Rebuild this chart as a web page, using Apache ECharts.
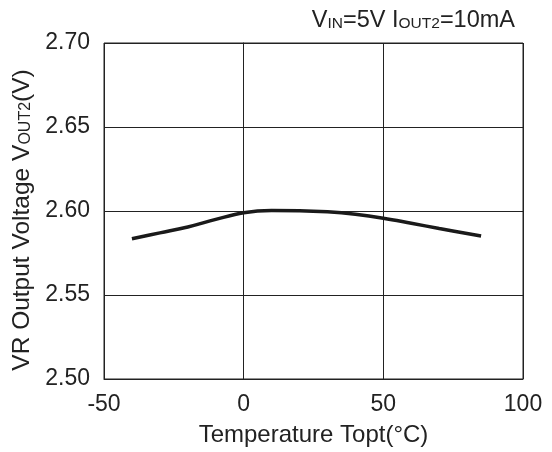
<!DOCTYPE html>
<html><head><meta charset="utf-8">
<script src="https://cdn.jsdelivr.net/npm/echarts@6/dist/echarts.min.js"></script>
<style>html,body{margin:0;padding:0;background:#fff}#c{width:552px;height:452px}</style>
</head><body><div id="c"></div>
<script>
const temps = [-40, -30, -20, -10, 0, 10, 20, 30, 40, 50, 60, 70, 85];
const vout  = [2.5835, 2.5870, 2.5905, 2.5950, 2.5990, 2.6003, 2.6002, 2.5995, 2.5980, 2.5957, 2.5927, 2.5896, 2.5851];
const xTicks = [-50, 0, 50, 100];
const yTicks = [2.50, 2.55, 2.60, 2.65, 2.70];

const chart = echarts.init(document.getElementById('c'), null, {renderer: 'canvas'});
const font = 'Liberation Sans, Arial, sans-serif';
const FS = 23;
function richOf(fs, ss) {
  return {
    n: {fontSize: fs, fontFamily: font, color: '#222', fontWeight: 'normal', lineHeight: fs + 3, verticalAlign: 'bottom'},
    s: {fontSize: ss, fontFamily: font, color: '#222', fontWeight: 'normal', lineHeight: fs + 3, verticalAlign: 'bottom', padding: [0, 0, 1, 0]}
  };
}
chart.setOption({
  animation: false,
  backgroundColor: '#fff',
  title: {
    text: '{n|V}{s|IN}{n|=5V I}{s|OUT2}{n|=10mA}',
    right: 37, top: 6, padding: 0,
    textStyle: {rich: richOf(23.5, 15.5)}
  },
  grid: {left: 104, right: 29, top: 43, bottom: 72, show: true, borderColor: '#222', borderWidth: 1},
  xAxis: {
    type: 'value', min: xTicks[0], max: xTicks[xTicks.length - 1], interval: 50,
    name: 'Temperature Topt(°C)', nameLocation: 'middle', nameGap: 44,
    nameTextStyle: {fontSize: 24, fontFamily: font, color: '#222'},
    axisLine: {lineStyle: {color: '#222', width: 1}},
    axisTick: {show: false},
    axisLabel: {fontSize: FS, fontFamily: font, color: '#222', margin: 14},
    splitLine: {show: true, lineStyle: {color: '#222', width: 1}}
  },
  yAxis: {
    type: 'value', min: yTicks[0], max: yTicks[yTicks.length - 1], interval: 0.05,
    name: '{n|VR Output Voltage V}{s|OUT2}{n|(V)}', nameLocation: 'middle', nameGap: 67,
    nameTextStyle: {rich: richOf(24.5, 16), padding: [0, 18, 0, 0]},
    axisLine: {show: true, lineStyle: {color: '#222', width: 1}},
    axisTick: {show: false},
    axisLabel: {fontSize: FS, fontFamily: font, color: '#222', margin: 14, formatter: v => v.toFixed(2)},
    splitLine: {show: true, lineStyle: {color: '#222', width: 1}}
  },
  series: [{
    type: 'line', data: temps.map((t, i) => [t, vout[i]]), smooth: 0.4,
    showSymbol: false, lineStyle: {color: '#1a1a1a', width: 3.5}
  }]
});
</script></body></html>
